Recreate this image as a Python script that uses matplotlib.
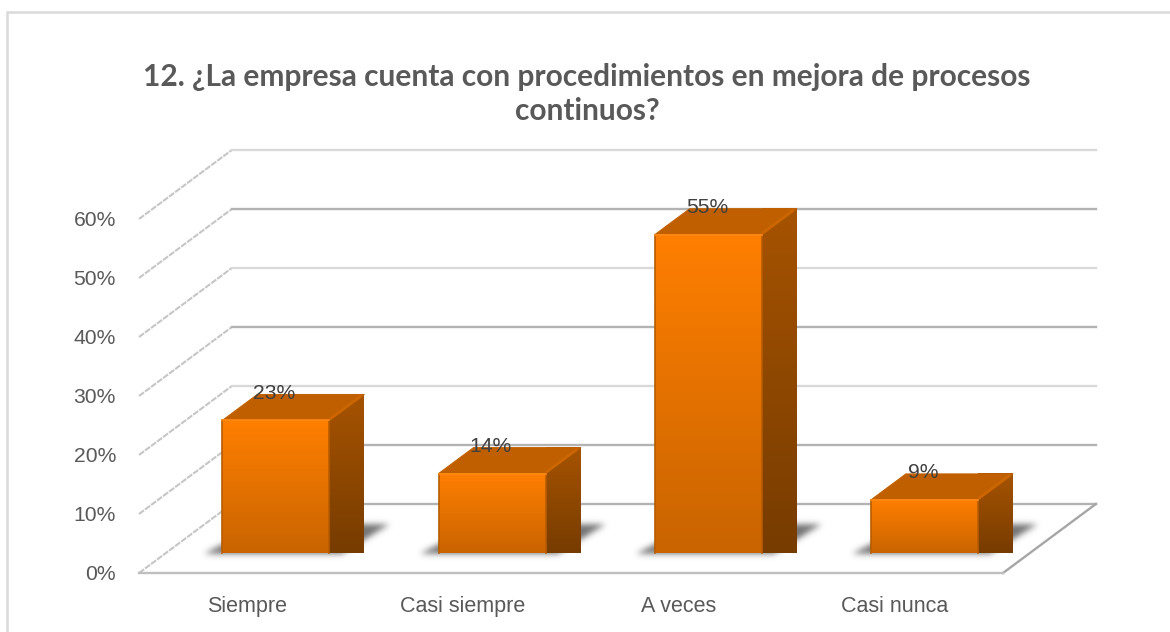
import numpy as np
import matplotlib
matplotlib.use("Agg")
import matplotlib.pyplot as plt
from matplotlib.patches import Polygon, Rectangle
from matplotlib.path import Path
from matplotlib.colors import LinearSegmentedColormap

categories = ["Siempre", "Casi siempre", "A veces", "Casi nunca"]
values = [22.7, 13.6, 54.5, 9.1]
labels = ["23%", "14%", "55%", "9%"]
ticks = [0, 10, 20, 30, 40, 50, 60]
tick_labels = ["0%", "10%", "20%", "30%", "40%", "50%", "60%"]
title = "12. ¿La empresa cuenta con procedimientos en mejora de procesos\ncontinuos?"

# oblique projection, depth 0 = front of floor, 1 = back wall
DX = 0.43
DY = 11.7
D0 = 0.29
D1 = 0.665
BW = 0.495
SCALE = 0.99


def proj(x, y, d):
    return x + d * DX, y + d * DY


def grad_poly(ax, pts, top, bottom, z=3):
    pts = np.array(pts)
    x0, x1 = pts[:, 0].min(), pts[:, 0].max()
    y0, y1 = pts[:, 1].min(), pts[:, 1].max()
    cm = LinearSegmentedColormap.from_list("g", [top, bottom])
    g = np.linspace(0, 1, 200).reshape(-1, 1)
    im = ax.imshow(g, cmap=cm, vmin=0, vmax=1, extent=(x0, x1, y0, y1),
                   origin="upper", aspect="auto", zorder=z)
    im.set_clip_on(False)
    p = Polygon(pts, closed=True, transform=ax.transData, fc="none", ec="none")
    p.set_clip_on(False)
    ax.add_patch(p)
    im.set_clip_path(p)


def soft_shadow(ax, pts, z=2):
    # blurred polygon, grid is about one pixel per cell
    pts = np.array(pts)
    x0, x1 = pts[:, 0].min() - 0.12, pts[:, 0].max() + 0.12
    y0, y1 = pts[:, 1].min() - 2.5, pts[:, 1].max() + 2.5
    nx, ny = int((x1 - x0) * 216), int((y1 - y0) * 5.9)
    xx, yy = np.meshgrid(np.linspace(x0, x1, nx), np.linspace(y0, y1, ny))
    mask = Path(pts).contains_points(np.c_[xx.ravel(), yy.ravel()]).reshape(ny, nx).astype(float)
    k = np.exp(-0.5 * (np.arange(-9, 10) / 3.0) ** 2)
    k = k / k.sum()
    mask = np.apply_along_axis(lambda m: np.convolve(m, k, mode="same"), 0, mask)
    mask = np.apply_along_axis(lambda m: np.convolve(m, k, mode="same"), 1, mask)
    rgba = np.zeros((ny, nx, 4))
    rgba[..., :3] = 0.42
    rgba[..., 3] = mask * 0.95
    im = ax.imshow(rgba, extent=(x0, x1, y0, y1), origin="lower", aspect="auto",
                   interpolation="bilinear", zorder=z)
    im.set_clip_on(False)


fig = plt.figure(figsize=(11.7, 6.32), dpi=100)
fig.patches.append(Rectangle((7 / 1170, -0.05), 1.1, 1.05 - 11.5 / 632,
                             transform=fig.transFigure, fc="white", ec="#d9d9d9", lw=1.8, zorder=-5))
ax = fig.add_axes([139 / 1170, 59 / 632, 864 / 1170, 354 / 632])
ax.patch.set_alpha(0)
ax.axis("off")

# walls and floor
for i, t in enumerate(ticks):
    x0, y0 = proj(-0.5, t, 0)
    x1, y1 = proj(-0.5, t, 1)
    ax.plot([x0, x1], [y0, y1], color="#c6c6c6", lw=1.5, ls=(0, (3, 0.6)), clip_on=False, zorder=1)
    x2, y2 = proj(3.5, t, 1)
    col = "#b3b3b3" if i % 2 == 1 or i == 0 else "#d9d9d9"
    ax.plot([x1, x2], [y1, y2], color=col, lw=1.7, clip_on=False, zorder=1)
    ax.text(-0.607, t - 0.3, tick_labels[i], ha="right", va="center", fontsize=15.2,
            family="Liberation Sans", color="#595959", clip_on=False)
x0, y0 = proj(3.5, 0, 0)
x1, y1 = proj(3.5, 0, 1)
ax.plot([x0, x1], [y0, y1], color="#a6a6a6", lw=1.7, clip_on=False, zorder=1)
ax.plot([-0.5, 3.5], [0, 0], color="#bfbfbf", lw=1.7, clip_on=False, zorder=1)

for i, (v, lab, cat) in enumerate(zip(values, labels, categories)):
    h = v * SCALE
    x = i * 1.001 + 0.009
    l = x - BW / 2
    r = x + BW / 2
    sh = [proj(l - 0.085, 0, D0 - 0.015), proj(r + 0.06, 0, D0 - 0.015),
          proj(r + 0.095, 0, D1 + 0.05), proj(l, 0, D1 + 0.05)]
    soft_shadow(ax, sh)
    # side
    side = [proj(r, 0, D0), proj(r, 0, D1), proj(r, h, D1), proj(r, h, D0)]
    grad_poly(ax, side, "#a65300", "#773c00", z=4)
    # top
    top = [proj(l, h, D0), proj(r, h, D0), proj(r, h, D1), proj(l, h, D1)]
    ax.add_patch(Polygon(top, closed=True, fc="#bf5f00", ec="#c26100", lw=0.8, joinstyle="round",
                         zorder=4, clip_on=False))
    bx0, by0 = proj(r - 0.006, h, D0 + 0.02)
    bx1, by1 = proj(r - 0.006, h, D1 - 0.02)
    ax.plot([bx0, bx1], [by0, by1], color="#cc6600", lw=2.0, zorder=4.5, clip_on=False,
            solid_capstyle="butt")
    # front
    grad_poly(ax, [proj(l, 0, D0), proj(r, 0, D0), proj(r, h, D0), proj(l, h, D0)],
              "#ff7f00", "#c96400", z=5)
    fl, fb = proj(l, 0, D0)
    fr, ft = proj(r, h, D0)
    ax.plot([fl, fl], [fb, ft], color="#b85c00", lw=1.2, zorder=6, clip_on=False)
    ax.plot([fr, fr], [fb, ft], color="#b85c00", lw=1.2, zorder=6, clip_on=False)
    ax.plot([fl, fr], [ft, ft], color="#ff8a14", lw=1.2, zorder=6, clip_on=False)
    # value label
    ax.text((fl + fr) / 2 - 0.007, ft + 4.55, lab, ha="center", va="center", fontsize=15.2,
            family="Liberation Sans", color="#404040", zorder=8, clip_on=False)
    # category label
    ax.text(i, -5.6, cat, ha="center", va="center", fontsize=15.5,
            family="Liberation Sans", color="#595959", clip_on=False)

ax.set_xlim(-0.5, 3.5)
ax.set_ylim(0, 60)

fig.text(587 / 1170, 1 - 94 / 632, title, ha="center", va="center", fontsize=21.5,
         family="Lato", fontweight="bold", color="#595959", linespacing=1.3)

fig.savefig("out.png", dpi=100)
